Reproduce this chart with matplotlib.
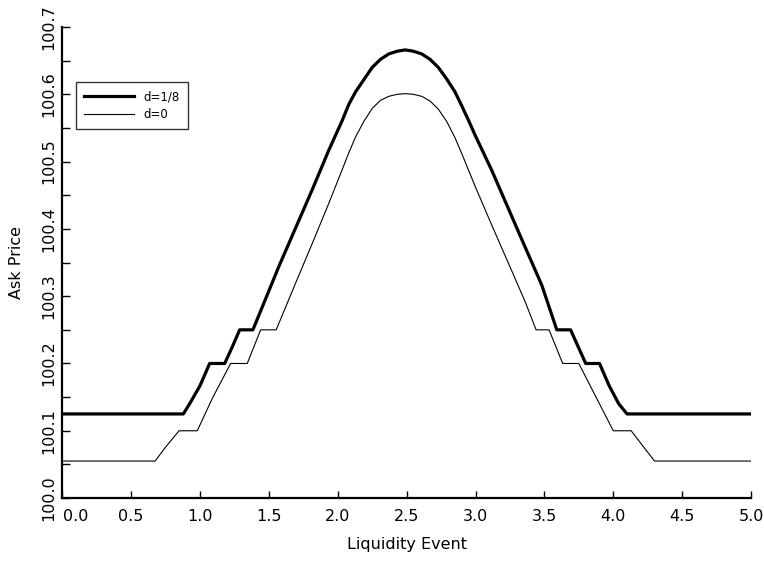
import matplotlib
matplotlib.use("Agg")
import matplotlib.pyplot as plt
from matplotlib.ticker import MultipleLocator, FuncFormatter

# curve readings (x = liquidity event, y = ask price)
x_d8 = [0.0, 0.879, 0.93, 1.0, 1.07, 1.179, 1.235, 1.288, 1.384, 1.452,
        1.572, 1.693, 1.814, 1.935, 2.03, 2.08, 2.13, 2.19, 2.25, 2.31,
        2.37, 2.43, 2.49, 2.55, 2.61, 2.67, 2.73, 2.79, 2.85, 2.90,
        2.95, 3.0, 3.118, 3.239, 3.360, 3.481, 3.59, 3.69, 3.745, 3.80,
        3.90, 3.97, 4.04, 4.10, 5.0]
y_d8 = [100.125, 100.125, 100.142, 100.167, 100.200, 100.200, 100.225, 100.250,
        100.250, 100.284, 100.344, 100.401, 100.458, 100.517, 100.560, 100.585,
        100.604, 100.622, 100.640, 100.652, 100.660, 100.664, 100.666, 100.664,
        100.660, 100.652, 100.640, 100.623, 100.604, 100.583, 100.561, 100.538,
        100.487, 100.430, 100.373, 100.3165, 100.250, 100.250, 100.225, 100.200,
        100.200, 100.167, 100.140, 100.125, 100.125]

x_d0 = [0.0, 0.674, 0.751, 0.848, 0.98, 1.089, 1.222, 1.343, 1.44, 1.553,
        1.693, 1.814, 1.935, 2.03, 2.08, 2.13, 2.19, 2.25, 2.31, 2.37,
        2.43, 2.49, 2.55, 2.61, 2.67, 2.73, 2.79, 2.85, 2.90, 2.95,
        3.0, 3.118, 3.239, 3.360, 3.44, 3.534, 3.633, 3.75, 3.88, 4.0,
        4.13, 4.22, 4.30, 5.0]
y_d0 = [100.055, 100.055, 100.076, 100.100, 100.100, 100.148, 100.200, 100.200,
        100.250, 100.250, 100.319, 100.378, 100.438, 100.487, 100.513, 100.537,
        100.560, 100.579, 100.591, 100.597, 100.600, 100.601, 100.600, 100.597,
        100.590, 100.578, 100.560, 100.536, 100.512, 100.487, 100.462, 100.4056,
        100.349, 100.292, 100.250, 100.250, 100.200, 100.200, 100.148, 100.100,
        100.100, 100.076, 100.055, 100.055]

plt.rcParams['font.family'] = ['DejaVu Sans']
FS = 11.5

fig = plt.figure(figsize=(7.64, 5.61), dpi=100)
ax = fig.add_axes([0.0815, 0.1122, 0.9015, 0.8396])

ax.plot(x_d8, y_d8, color='black', linewidth=2.3, label='d=1/8')
ax.plot(x_d0, y_d0, color='black', linewidth=0.8, label='d=0')

ax.set_xlim(0, 5)
ax.set_ylim(100.0, 100.7)
ax.xaxis.set_major_locator(MultipleLocator(0.5))
ax.yaxis.set_major_locator(MultipleLocator(0.1))
ax.yaxis.set_minor_locator(MultipleLocator(0.05))
# the 0.0 label is drawn separately, to the right of its tick
ax.xaxis.set_major_formatter(FuncFormatter(lambda v, p: '' if abs(v) < 1e-9 else '%.1f' % v))
ax.yaxis.set_major_formatter(plt.FormatStrFormatter('%.1f'))
ax.annotate('0.0', xy=(0, 0), xycoords='axes fraction', xytext=(0.5, -8),
            textcoords='offset points', ha='left', va='top', fontsize=FS)

for s in ['top', 'right']:
    ax.spines[s].set_visible(False)
for s in ['left', 'bottom']:
    ax.spines[s].set_linewidth(1.6)

ax.tick_params(axis='both', which='both', direction='in', width=1.0,
               labelsize=FS)
ax.tick_params(axis='x', which='major', length=5, pad=8)
ax.tick_params(axis='y', which='both', length=6, pad=4)
for lab in ax.get_yticklabels():
    lab.set_rotation(90)
    lab.set_va('center')

ax.set_xlabel('Liquidity Event', fontsize=FS, labelpad=9)
ax.set_ylabel('Ask Price', fontsize=FS, labelpad=13)

leg = ax.legend(loc='upper left', bbox_to_anchor=(0.02, 0.883), fontsize=8.5,
                frameon=True, fancybox=False, borderaxespad=0, handlelength=4.2,
                borderpad=0.7, labelspacing=0.4)
leg.get_frame().set_edgecolor('black')
leg.get_frame().set_linewidth(1.0)

fig.savefig('out.png', dpi=100)
